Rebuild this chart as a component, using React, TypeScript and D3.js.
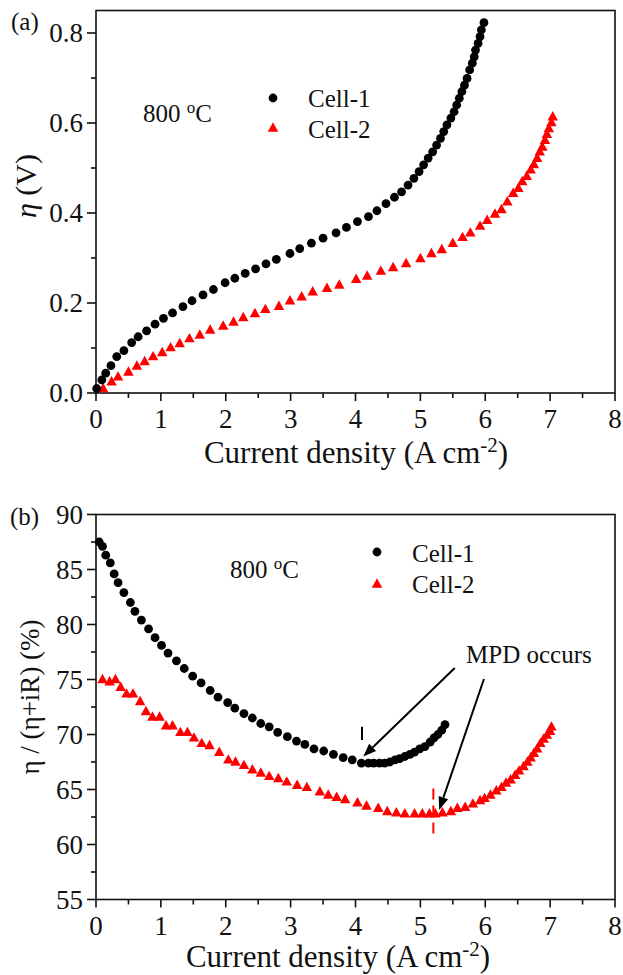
import React from "react";
import * as d3 from "d3";

// ---------- Data ----------
// Panel (a): overpotential η (V) vs current density (A cm-2)
const a1X = [0.01,0.09,0.15,0.23,0.32,0.43,0.55,0.65,0.78,0.91,1.04,1.18,1.34,1.48,1.65,1.81,1.99,2.14,2.30,2.46,2.62,2.78,2.99,3.14,3.32,3.50,3.70,3.86,4.03,4.20,4.33,4.47,4.60,4.71,4.81,4.90,4.98,5.05,5.12,5.19,5.25,5.31,5.36,5.41,5.47,5.52,5.56,5.60,5.64,5.68,5.72,5.76,5.80,5.83,5.85,5.89,5.92,5.94,5.98];
const a1Y = [0.010,0.029,0.044,0.061,0.081,0.094,0.112,0.125,0.138,0.153,0.166,0.178,0.192,0.205,0.218,0.230,0.245,0.255,0.266,0.276,0.287,0.297,0.310,0.321,0.333,0.344,0.356,0.368,0.381,0.392,0.405,0.421,0.435,0.447,0.462,0.477,0.492,0.507,0.522,0.536,0.551,0.566,0.581,0.596,0.611,0.625,0.640,0.655,0.670,0.684,0.699,0.718,0.733,0.747,0.762,0.777,0.792,0.807,0.823];
const a2X = [0.11,0.24,0.34,0.50,0.63,0.75,0.88,1.02,1.15,1.29,1.44,1.60,1.76,1.96,2.12,2.27,2.45,2.61,2.82,2.99,3.17,3.34,3.56,3.75,4.01,4.18,4.39,4.58,4.78,5.00,5.17,5.33,5.50,5.65,5.77,5.92,6.03,6.15,6.25,6.34,6.43,6.51,6.57,6.64,6.70,6.75,6.80,6.84,6.88,6.92,6.95,6.98,7.02,7.04];
const a2Y = [0.010,0.025,0.036,0.047,0.060,0.070,0.081,0.090,0.101,0.110,0.121,0.129,0.140,0.149,0.158,0.168,0.177,0.186,0.193,0.205,0.214,0.225,0.233,0.240,0.253,0.260,0.271,0.279,0.288,0.299,0.310,0.319,0.333,0.346,0.356,0.371,0.384,0.398,0.408,0.425,0.444,0.455,0.470,0.482,0.496,0.508,0.522,0.536,0.547,0.562,0.575,0.588,0.601,0.614];

// Panel (b): η/(η+iR) (%) vs current density
const b1X = [0.05,0.10,0.15,0.22,0.28,0.34,0.43,0.53,0.60,0.70,0.81,0.91,1.01,1.11,1.24,1.36,1.49,1.62,1.76,1.88,2.03,2.14,2.28,2.41,2.54,2.67,2.80,2.95,3.09,3.22,3.36,3.51,3.66,3.81,3.95,4.09,4.20,4.28,4.37,4.45,4.53,4.61,4.68,4.76,4.84,4.91,4.99,5.07,5.15,5.21,5.27,5.33,5.38];
const b1Y = [87.5,87.1,86.3,85.6,84.6,83.8,82.9,82.0,81.2,80.4,79.6,78.8,78.1,77.4,76.7,76.0,75.3,74.7,74.0,73.4,72.9,72.4,71.9,71.5,71.0,70.7,70.2,69.8,69.4,69.1,68.7,68.5,68.2,67.9,67.7,67.4,67.4,67.4,67.4,67.4,67.5,67.7,67.8,68.0,68.2,68.4,68.7,68.9,69.3,69.7,70.0,70.4,70.9];
const b2X = [0.10,0.21,0.30,0.38,0.47,0.57,0.68,0.77,0.87,0.98,1.08,1.18,1.30,1.41,1.51,1.63,1.75,1.90,2.04,2.15,2.28,2.41,2.54,2.67,2.81,2.94,3.10,3.25,3.45,3.58,3.71,3.84,4.03,4.17,4.35,4.49,4.63,4.76,4.91,5.03,5.14,5.23,5.34,5.47,5.57,5.69,5.81,5.92,5.99,6.08,6.17,6.25,6.32,6.39,6.46,6.52,6.59,6.65,6.70,6.75,6.80,6.85,6.90,6.95,7.00,7.02];
const b2Y = [75.0,74.8,75.0,74.3,73.7,73.7,73.0,72.1,71.6,71.6,70.8,70.8,70.2,70.2,69.7,69.2,69.0,68.4,67.7,67.5,67.2,66.8,66.5,66.2,66.0,65.7,65.4,65.2,64.8,64.5,64.3,64.1,63.8,63.5,63.3,63.0,62.9,62.8,62.8,62.8,62.8,62.8,62.9,63.0,63.3,63.4,63.7,64.0,64.2,64.5,64.9,65.2,65.6,65.9,66.3,66.7,67.1,67.5,67.9,68.3,68.7,69.2,69.6,69.95,70.3,70.7];

// MPD markers (x, yFrom, yTo) and arrows (from x,y -> to x,y) in data units of panel (b)
const mpd1 = { x: 4.1, y0: 69.5, y1: 70.7 };
const mpd2 = { x: 5.2, y0: 60.6, y1: 65.1 };
const arrow1 = { x0: 5.53, y0: 76.05, x1: 4.12, y1: 68.0 };
const arrow2 = { x0: 5.98, y0: 75.05, x1: 5.29, y1: 63.14 };

const xTicks = [0, 1, 2, 3, 4, 5, 6, 7, 8];
const xMinor = [0.5, 1.5, 2.5, 3.5, 4.5, 5.5, 6.5, 7.5];
const yATicks = [0, 0.2, 0.4, 0.6, 0.8];
const yAMinor = [0.1, 0.3, 0.5, 0.7];
const yBTicks = [55, 60, 65, 70, 75, 80, 85, 90];
const yBMinor = [57.5, 62.5, 67.5, 72.5, 77.5, 82.5, 87.5];
const seriesNames = ["Cell-1", "Cell-2"];

const FONT = "'Liberation Serif', 'Times New Roman', serif";
const RED = "#ff0000";

function Circle({ cx, cy, r = 4.4 }: { cx: number; cy: number; r?: number }) {
  return <circle cx={cx} cy={cy} r={r} fill="#000" />;
}
function Tri({ cx, cy, s = 10.5, color = RED }: { cx: number; cy: number; s?: number; color?: string }) {
  const h = s * 0.9;
  const p = `${cx},${cy - h * 0.6} ${cx + s / 2},${cy + h * 0.4} ${cx - s / 2},${cy + h * 0.4}`;
  return <polygon points={p} fill={color} />;
}

type PanelProps = {
  x: d3.ScaleLinear<number, number>;
  y: d3.ScaleLinear<number, number>;
  yTicks: number[];
  yMinor: number[];
  yFmt: (v: number) => string;
};

function Frame({ x, y, yTicks, yMinor, yFmt }: PanelProps) {
  const [x0, x1] = x.range();
  const [yb, yt] = y.range();
  return (
    <g>
      <rect x={x0} y={yt} width={x1 - x0} height={yb - yt} fill="none" stroke="#111" strokeWidth={1.6} />
      {xTicks.map((t) => (
        <g key={"xt" + t}>
          <line x1={x(t)} x2={x(t)} y1={yb} y2={yb + 8} stroke="#111" strokeWidth={1.6} />
          <text x={x(t)} y={yb + 35} textAnchor="middle" fontSize={27} fontFamily={FONT} fill="#111">
            {t}
          </text>
        </g>
      ))}
      {xMinor.map((t) => (
        <line key={"xm" + t} x1={x(t)} x2={x(t)} y1={yb} y2={yb + 5} stroke="#111" strokeWidth={1.6} />
      ))}
      {yTicks.map((t) => (
        <g key={"yt" + t}>
          <line x1={x0 - 9} x2={x0} y1={y(t)} y2={y(t)} stroke="#111" strokeWidth={1.6} />
          <text x={x0 - 13} y={y(t)} dy="0.35em" textAnchor="end" fontSize={27} fontFamily={FONT} fill="#111">
            {yFmt(t)}
          </text>
        </g>
      ))}
      {yMinor.map((t) => (
        <line key={"ym" + t} x1={x0 - 5} x2={x0} y1={y(t)} y2={y(t)} stroke="#111" strokeWidth={1.6} />
      ))}
    </g>
  );
}

export default function App() {
  const x = d3.scaleLinear().domain([0, 8]).range([96, 615]);
  const yA = d3.scaleLinear().domain([0, 0.85]).range([393, 10.5]);
  const yB = d3.scaleLinear().domain([55, 90]).range([899.5, 514.5]);

  const textStyle = { fontFamily: FONT, fill: "#111" } as const;

  const arrow = (a: typeof arrow1, key: string) => {
    const sx = x(a.x0), sy = yB(a.y0), ex = x(a.x1), ey = yB(a.y1);
    const ang = Math.atan2(ey - sy, ex - sx);
    const L = 13, Wd = 5;
    const bx = ex - L * Math.cos(ang), by = ey - L * Math.sin(ang);
    const px = -Math.sin(ang) * Wd, py = Math.cos(ang) * Wd;
    return (
      <g key={key}>
        <line x1={sx} y1={sy} x2={bx} y2={by} stroke="#000" strokeWidth={2} />
        <polygon points={`${ex},${ey} ${bx + px},${by + py} ${bx - px},${by - py}`} fill="#000" />
      </g>
    );
  };

  return (
    <svg width={623} height={975} style={{ position: "absolute", left: 0, top: 0, background: "#fff" }}>
      <rect width={623} height={975} fill="#fff" />

      {/* ---------- Panel (a) ---------- */}
      <Frame x={x} y={yA} yTicks={yATicks} yMinor={yAMinor} yFmt={(v) => v.toFixed(1)} />
      {a2X.map((v, i) => (
        <Tri key={"a2" + i} cx={x(v)} cy={yA(a2Y[i])} />
      ))}
      {a1X.map((v, i) => (
        <Circle key={"a1" + i} cx={x(v)} cy={yA(a1Y[i])} />
      ))}
      <text x={11} y={30} fontSize={25} {...textStyle}>(a)</text>
      <text x={143} y={122} fontSize={25} {...textStyle}>
        800 <tspan dy={-9} fontSize={17}>o</tspan><tspan dy={9}>C</tspan>
      </text>
      <Circle cx={273} cy={98} />
      <Tri cx={273} cy={128} />
      <text x={308} y={107} fontSize={25} {...textStyle}>{seriesNames[0]}</text>
      <text x={308} y={138} fontSize={25} {...textStyle}>{seriesNames[1]}</text>
      <text x={356} y={463} textAnchor="middle" fontSize={31} {...textStyle}>
        Current density (A cm<tspan dy={-11} fontSize={21}>-2</tspan><tspan dy={11}>)</tspan>
      </text>
      <text transform="translate(25,186) rotate(-90)" textAnchor="middle" dy="0.35em" fontSize={30} {...textStyle}>
        <tspan fontStyle="italic">η</tspan> (V)
      </text>

      {/* ---------- Panel (b) ---------- */}
      <Frame x={x} y={yB} yTicks={yBTicks} yMinor={yBMinor} yFmt={(v) => String(v)} />
      {b2X.map((v, i) => (
        <Tri key={"b2" + i} cx={x(v)} cy={yB(b2Y[i])} />
      ))}
      {b1X.map((v, i) => (
        <Circle key={"b1" + i} cx={x(v)} cy={yB(b1Y[i])} />
      ))}
      <line x1={x(mpd1.x)} x2={x(mpd1.x)} y1={yB(mpd1.y1)} y2={yB(mpd1.y0)} stroke="#000" strokeWidth={2} />
      <line x1={x(mpd2.x)} x2={x(mpd2.x)} y1={yB(mpd2.y1)} y2={yB(mpd2.y0)} stroke={RED} strokeWidth={2} strokeDasharray="11,6" />
      {arrow(arrow1, "ar1")}
      {arrow(arrow2, "ar2")}
      <text x={466} y={663} fontSize={25} {...textStyle}>MPD occurs</text>
      <text x={10} y={525} fontSize={25} {...textStyle}>(b)</text>
      <text x={230} y={578} fontSize={25} {...textStyle}>
        800 <tspan dy={-9} fontSize={17}>o</tspan><tspan dy={9}>C</tspan>
      </text>
      <Circle cx={377} cy={552} />
      <Tri cx={377} cy={584} />
      <text x={412} y={562} fontSize={25} {...textStyle}>{seriesNames[0]}</text>
      <text x={412} y={593} fontSize={25} {...textStyle}>{seriesNames[1]}</text>
      <text x={338} y={967} textAnchor="middle" fontSize={31} {...textStyle}>
        Current density (A cm<tspan dy={-11} fontSize={21}>-2</tspan><tspan dy={11}>)</tspan>
      </text>
      <text transform="translate(30,697) rotate(-90)" textAnchor="middle" dy="0.35em" fontSize={27} {...textStyle}>
        η / (η+iR) (%)
      </text>
    </svg>
  );
}
